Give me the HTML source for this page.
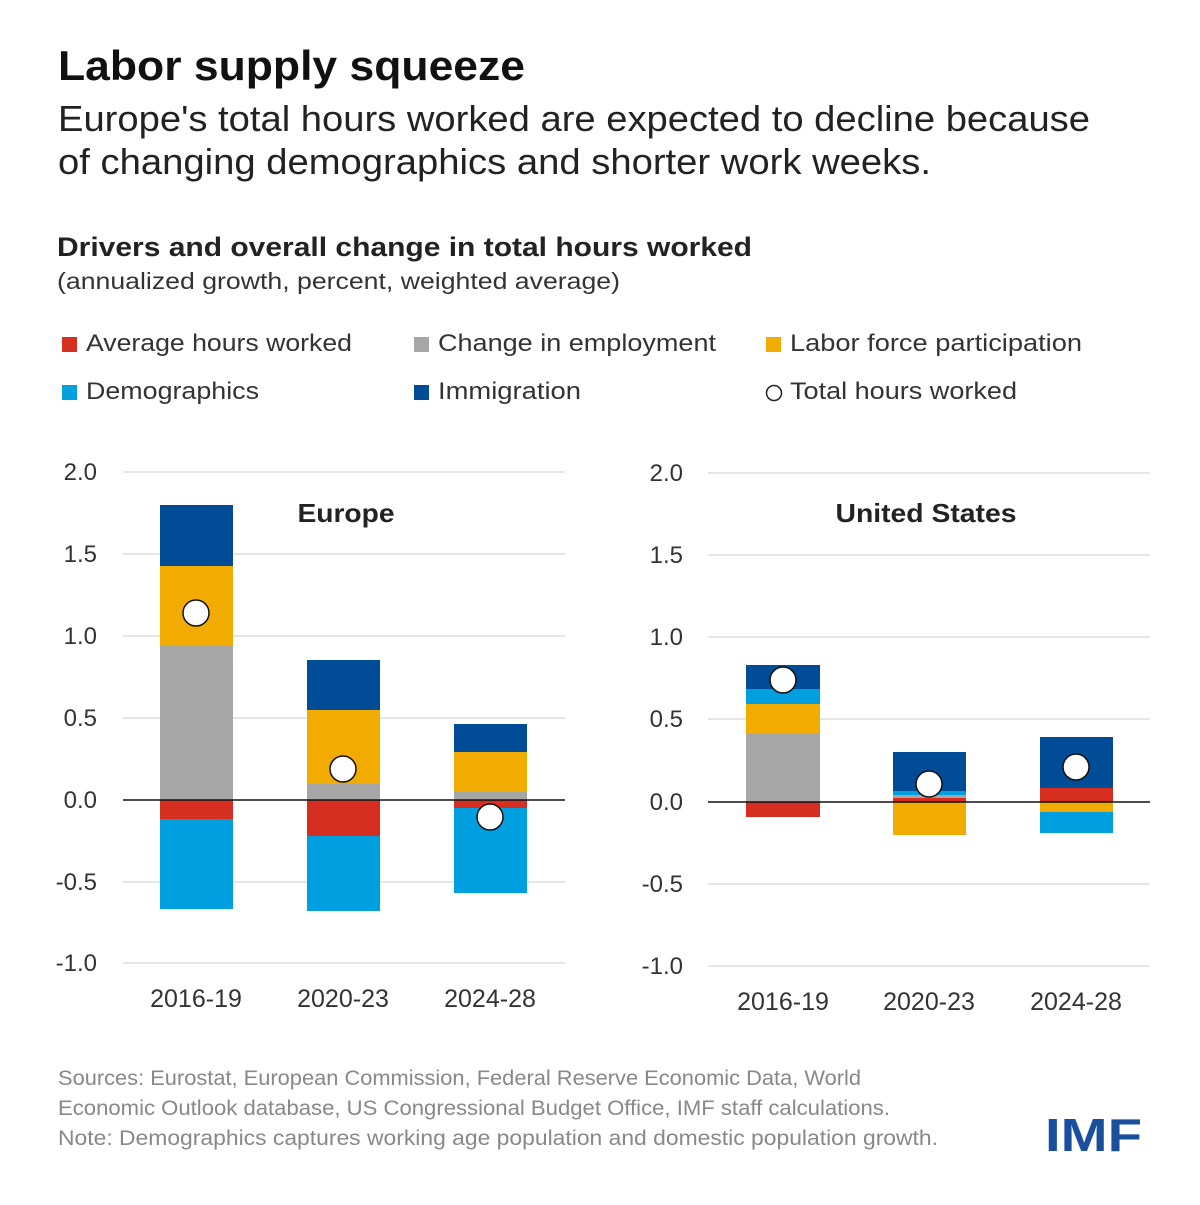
<!DOCTYPE html>
<html><head><meta charset="utf-8"><style>
body{margin:0;background:#fff;}
svg text{font-family:"Liberation Sans",sans-serif;}
</style></head><body>
<svg width="1200" height="1200" xmlns="http://www.w3.org/2000/svg">
<rect width="1200" height="1200" fill="#fff"/>
<text x="58" y="80" font-size="42" font-weight="bold" fill="#111" textLength="467" lengthAdjust="spacingAndGlyphs">Labor supply squeeze</text>
<text x="58" y="131" font-size="36" fill="#222" textLength="1032" lengthAdjust="spacingAndGlyphs">Europe's total hours worked are expected to decline because</text>
<text x="58" y="174" font-size="36" fill="#222" textLength="873" lengthAdjust="spacingAndGlyphs">of changing demographics and shorter work weeks.</text>
<text x="57" y="256" font-size="27" font-weight="bold" fill="#222" textLength="695" lengthAdjust="spacingAndGlyphs">Drivers and overall change in total hours worked</text>
<text x="57" y="289" font-size="23" fill="#333" textLength="563" lengthAdjust="spacingAndGlyphs">(annualized growth, percent, weighted average)</text>
<g font-size="24" fill="#333">
<rect x="62" y="337" width="15" height="15" fill="#d62f22"/><text x="86" y="351" textLength="266" lengthAdjust="spacingAndGlyphs">Average hours worked</text>
<rect x="414" y="337" width="15" height="15" fill="#a6a6a6"/><text x="438" y="351" textLength="278" lengthAdjust="spacingAndGlyphs">Change in employment</text>
<rect x="766" y="337" width="15" height="15" fill="#f2ab00"/><text x="790" y="351" textLength="292" lengthAdjust="spacingAndGlyphs">Labor force participation</text>
<rect x="62" y="385" width="15" height="15" fill="#009fdf"/><text x="86" y="399" textLength="173" lengthAdjust="spacingAndGlyphs">Demographics</text>
<rect x="414" y="385" width="15" height="15" fill="#004c97"/><text x="438" y="399" textLength="143" lengthAdjust="spacingAndGlyphs">Immigration</text>
<circle cx="774" cy="393" r="7.5" fill="#fff" stroke="#222" stroke-width="1.5"/><text x="790" y="399" textLength="227" lengthAdjust="spacingAndGlyphs">Total hours worked</text>
</g>
<g stroke="#ddd" stroke-width="1.5">
<line x1="123" x2="565" y1="472" y2="472"/><line x1="123" x2="565" y1="554" y2="554"/><line x1="123" x2="565" y1="636" y2="636"/><line x1="123" x2="565" y1="718" y2="718"/><line x1="123" x2="565" y1="882" y2="882"/><line x1="123" x2="565" y1="963" y2="963"/>
<line x1="708" x2="1150" y1="473" y2="473"/><line x1="708" x2="1150" y1="555" y2="555"/><line x1="708" x2="1150" y1="637" y2="637"/><line x1="708" x2="1150" y1="719" y2="719"/><line x1="708" x2="1150" y1="884" y2="884"/><line x1="708" x2="1150" y1="966" y2="966"/>
</g>
<g font-size="24" fill="#333" text-anchor="end">
<text x="97" y="480">2.0</text><text x="97" y="562">1.5</text><text x="97" y="644">1.0</text><text x="97" y="726">0.5</text><text x="97" y="808">0.0</text><text x="97" y="890">-0.5</text><text x="97" y="971">-1.0</text>
<text x="683" y="481">2.0</text><text x="683" y="563">1.5</text><text x="683" y="645">1.0</text><text x="683" y="727">0.5</text><text x="683" y="810">0.0</text><text x="683" y="892">-0.5</text><text x="683" y="974">-1.0</text>
</g>
<text x="346" y="522" font-size="26" font-weight="bold" fill="#222" text-anchor="middle" textLength="97" lengthAdjust="spacingAndGlyphs">Europe</text>
<text x="926" y="522" font-size="26" font-weight="bold" fill="#222" text-anchor="middle" textLength="181" lengthAdjust="spacingAndGlyphs">United States</text>
<g>
<rect x="160" y="505" width="73" height="61" fill="#004c97"/><rect x="160" y="566" width="73" height="80" fill="#f2ab00"/><rect x="160" y="646" width="73" height="154" fill="#a6a6a6"/><rect x="160" y="800" width="73" height="19" fill="#d62f22"/><rect x="160" y="819" width="73" height="90" fill="#009fdf"/>
<rect x="307" y="660" width="73" height="50" fill="#004c97"/><rect x="307" y="710" width="73" height="74" fill="#f2ab00"/><rect x="307" y="784" width="73" height="16" fill="#a6a6a6"/><rect x="307" y="800" width="73" height="36" fill="#d62f22"/><rect x="307" y="836" width="73" height="75" fill="#009fdf"/>
<rect x="454" y="724" width="73" height="28" fill="#004c97"/><rect x="454" y="752" width="73" height="40" fill="#f2ab00"/><rect x="454" y="792" width="73" height="8" fill="#a6a6a6"/><rect x="454" y="800" width="73" height="8" fill="#d62f22"/><rect x="454" y="808" width="73" height="85" fill="#009fdf"/>
</g>
<line x1="123" x2="565" y1="800" y2="800" stroke="#111" stroke-width="1.5"/>
<g fill="#fff" stroke="#111" stroke-width="1.5">
<circle cx="196" cy="613" r="13"/><circle cx="343" cy="769" r="13"/><circle cx="490" cy="817" r="13"/>
</g>
<g>
<rect x="746" y="665" width="74" height="24" fill="#004c97"/><rect x="746" y="689" width="74" height="15" fill="#009fdf"/><rect x="746" y="704" width="74" height="30" fill="#f2ab00"/><rect x="746" y="734" width="74" height="68" fill="#a6a6a6"/><rect x="746" y="802" width="74" height="15" fill="#d62f22"/>
<rect x="893" y="752" width="73" height="39" fill="#004c97"/><rect x="893" y="791" width="73" height="4" fill="#009fdf"/><rect x="893" y="795" width="73" height="3" fill="#a6a6a6"/><rect x="893" y="798" width="73" height="4" fill="#d62f22"/><rect x="893" y="802" width="73" height="33" fill="#f2ab00"/>
<rect x="1040" y="737" width="73" height="51" fill="#004c97"/><rect x="1040" y="788" width="73" height="14" fill="#d62f22"/><rect x="1040" y="802" width="73" height="10" fill="#f2ab00"/><rect x="1040" y="812" width="73" height="21" fill="#009fdf"/>
</g>
<line x1="708" x2="1150" y1="802" y2="802" stroke="#111" stroke-width="1.5"/>
<g fill="#fff" stroke="#111" stroke-width="1.5">
<circle cx="783" cy="680" r="13"/><circle cx="929" cy="784" r="13"/><circle cx="1076" cy="767" r="13"/>
</g>
<g font-size="25" fill="#333" text-anchor="middle">
<text x="196" y="1007">2016-19</text><text x="343" y="1007">2020-23</text><text x="490" y="1007">2024-28</text>
<text x="783" y="1010">2016-19</text><text x="929" y="1010">2020-23</text><text x="1076" y="1010">2024-28</text>
</g>
<g font-size="21" fill="#888">
<text x="58" y="1085" textLength="803" lengthAdjust="spacingAndGlyphs">Sources: Eurostat, European Commission, Federal Reserve Economic Data, World</text>
<text x="58" y="1115" textLength="832" lengthAdjust="spacingAndGlyphs">Economic Outlook database, US Congressional Budget Office, IMF staff calculations.</text>
<text x="58" y="1145" textLength="880" lengthAdjust="spacingAndGlyphs">Note: Demographics captures working age population and domestic population growth.</text>
</g>
<text x="1142" y="1151" font-size="46" font-weight="bold" fill="#1a4f9c" text-anchor="end" textLength="97" lengthAdjust="spacingAndGlyphs">IMF</text>
</svg>
</body></html>
